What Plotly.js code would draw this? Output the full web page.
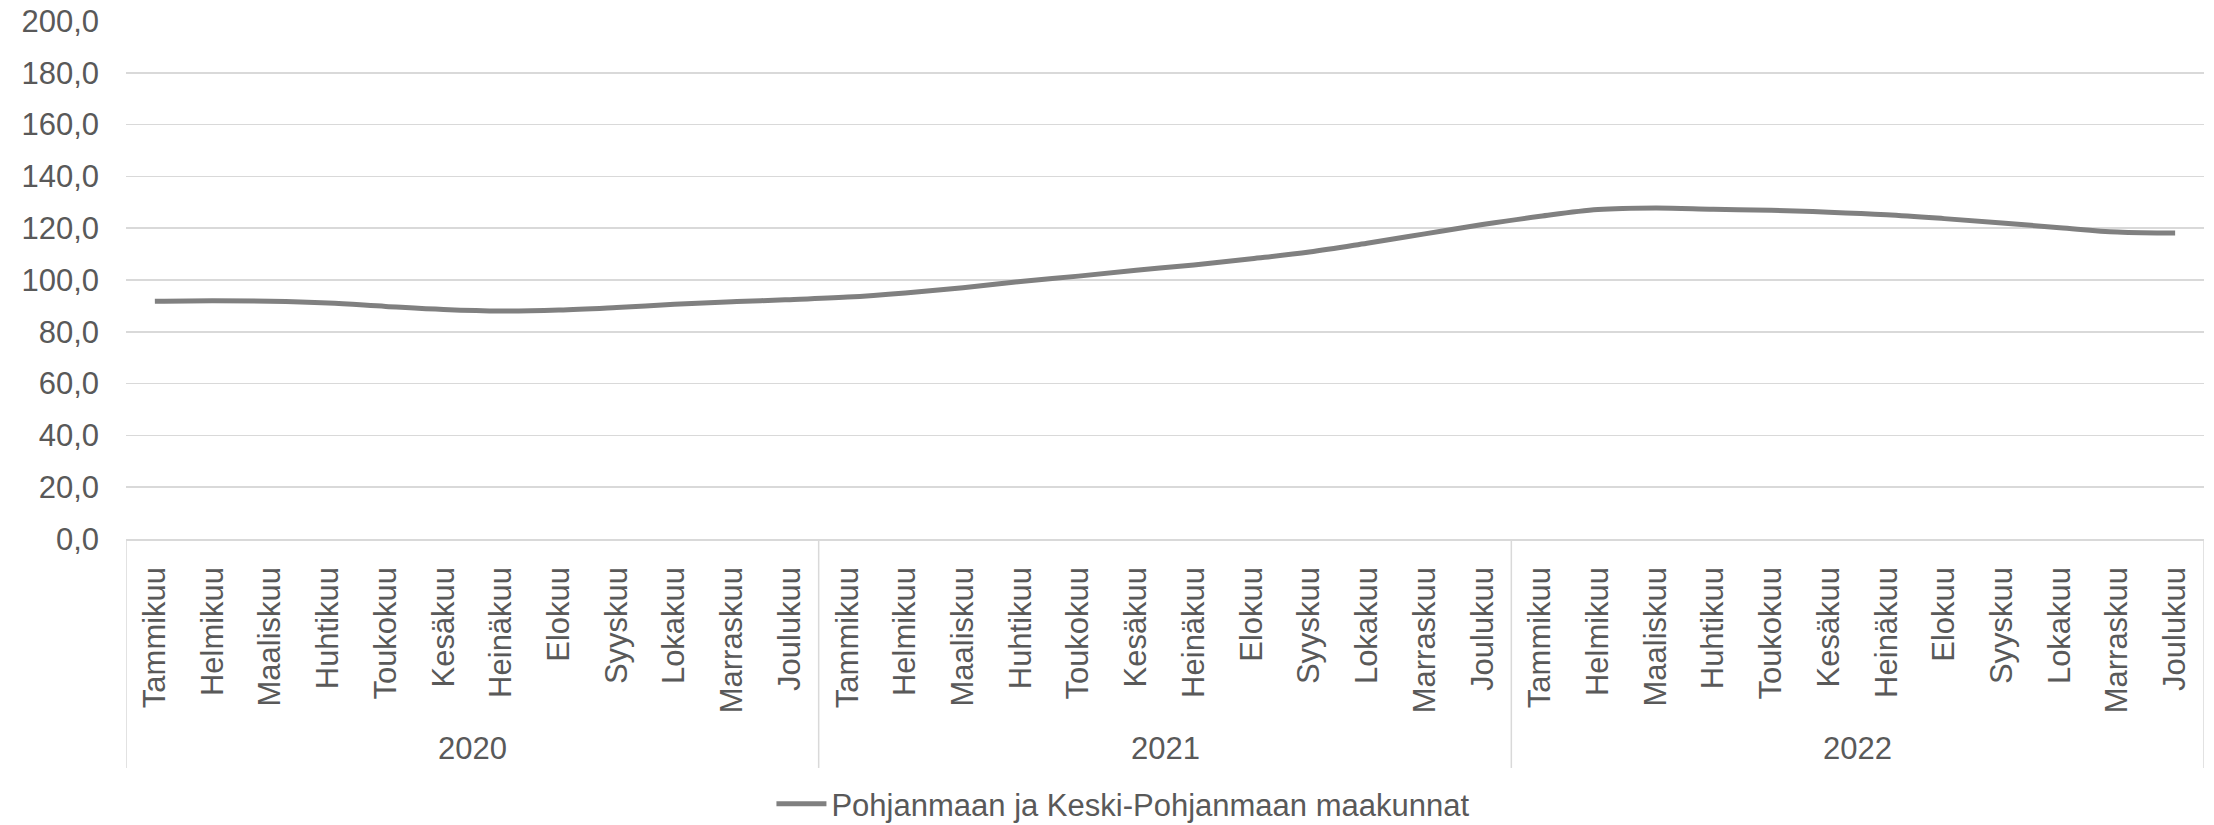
<!DOCTYPE html>
<html>
<head>
<meta charset="utf-8">
<script src="https://cdn.plot.ly/plotly-3.0.1.min.js"></script>
<style>html,body{margin:0;padding:0;background:#fff;}#chart{width:2214px;height:825px;}</style>
</head>
<body>
<div id="chart"></div>
<script>
const years = ["2020", "2021", "2022"];
const months = ["Tammikuu", "Helmikuu", "Maaliskuu", "Huhtikuu", "Toukokuu", "Kesäkuu",
                "Heinäkuu", "Elokuu", "Syyskuu", "Lokakuu", "Marraskuu", "Joulukuu"];
const values2020 = [91.8, 92.0, 91.8, 91.1, 89.8, 88.6, 88.0, 88.4, 89.4, 90.6, 91.6, 92.4];
const values2021 = [93.4, 95.0, 97.0, 99.4, 101.5, 103.8, 105.8, 108.2, 110.8, 114.2, 117.8, 121.4];
const values2022 = [124.6, 127.2, 127.8, 127.3, 126.9, 126.2, 125.2, 123.7, 122.0, 120.2, 118.5, 118.1];
const seriesName = "Pohjanmaan ja Keski-Pohjanmaan maakunnat";
const yTicks = [0, 20, 40, 60, 80, 100, 120, 140, 160, 180, 200];

const allValues = values2020.concat(values2021, values2022);
const xIdx = allValues.map((_, i) => i);
const tickText = years.flatMap(() => months);

const FONT = "Liberation Sans, Arial, sans-serif";
const TXT = "#595959";
const GRID = "#d9d9d9";

const trace = {
  type: "scatter",
  mode: "lines",
  x: xIdx,
  y: allValues,
  name: seriesName,
  line: {color: "#808080", width: 5, shape: "spline", smoothing: 1},
  hoverinfo: "y"
};

const nM = months.length;
const shapes = [];
for (let g = 0; g <= years.length; g++) {
  shapes.push({
    type: "line", xref: "x", yref: "paper",
    x0: g * nM - 0.5, x1: g * nM - 0.5, y0: 0, y1: -0.442,
    line: {color: GRID, width: 1.5}
  });
}
const annotations = years.map((yr, g) => ({
  text: yr, xref: "x", yref: "paper",
  x: g * nM + (nM - 1) / 2, y: -0.405,
  xanchor: "center", yanchor: "middle", showarrow: false,
  font: {family: FONT, size: 31, color: TXT}
}));

const layout = {
  width: 2214, height: 825,
  margin: {l: 126, r: 10, t: 21, b: 286, autoexpand: false},
  paper_bgcolor: "#fff", plot_bgcolor: "#fff",
  separators: ", ",
  font: {family: FONT, color: TXT},
  showlegend: true,
  legend: {
    orientation: "h", x: 0.48, xanchor: "center", y: -0.512, yanchor: "middle",
    font: {family: FONT, size: 31, color: TXT}, itemwidth: 50
  },
  xaxis: {
    range: [-0.5, allValues.length - 0.5],
    tickmode: "array", tickvals: xIdx, ticktext: tickText,
    tickangle: -90, tickfont: {family: FONT, size: 31, color: TXT},
    showgrid: false, zeroline: false,
    showline: true, linecolor: GRID, linewidth: 1.5,
    ticks: "", ticklabelstandoff: 14, fixedrange: true, automargin: false
  },
  yaxis: {
    range: [0, 200], tickmode: "array", tickvals: yTicks,
    tickformat: ".1f", tickfont: {family: FONT, size: 31, color: TXT},
    showgrid: true, gridcolor: GRID, gridwidth: 1.5,
    zeroline: false, showline: false, ticks: "", ticklabelstandoff: 26,
    fixedrange: true, automargin: false
  },
  shapes: shapes,
  annotations: annotations
};

Plotly.newPlot("chart", [trace], layout, {displayModeBar: false, staticPlot: true});
</script>
</body>
</html>
